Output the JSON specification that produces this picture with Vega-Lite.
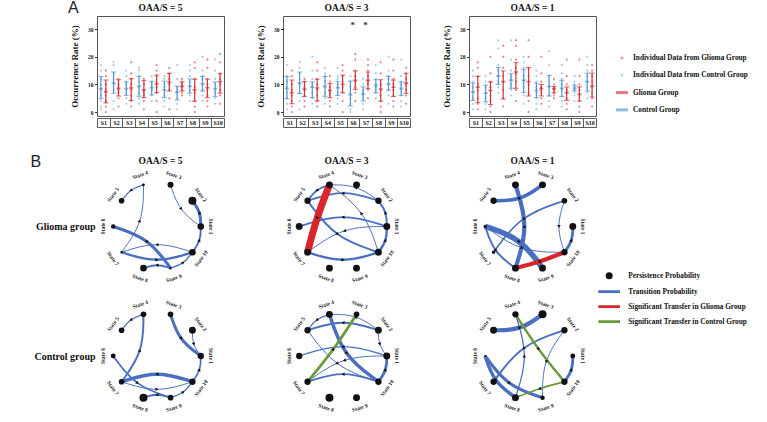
{
  "$schema": "https://vega.github.io/schema/vega-lite/v6.json",
  "background": "white",
  "padding": {"left": 30, "top": -1, "right": 5, "bottom": 2},
  "title": {"text": "A", "anchor": "start", "frame": "group", "dx": -29, "offset": -13.7, "font": "Liberation Sans", "fontSize": 16, "fontWeight": "normal", "color": "#222"},
  "bounds": "flush",
  "align": "each",
  "columns": 3,
  "spacing": {"row": 6, "column": 59},
  "resolve": {
    "scale": {"fill": "independent", "shape": "independent", "color": "independent", "stroke": "independent", "strokeWidth": "independent", "size": "independent"},
    "legend": {"fill": "independent", "shape": "independent", "color": "independent", "stroke": "independent", "strokeWidth": "independent", "size": "independent"}
  },
  "config": {
    "font": "Liberation Serif",
    "view": {"stroke": "#555", "strokeWidth": 1},
    "axis": {"labelFont": "Liberation Serif", "titleFont": "Liberation Serif", "labelColor": "#111", "titleColor": "#111"},
    "legend": {"labelFont": "Liberation Serif", "labelFontWeight": "bold", "labelColor": "#111"},
    "title": {"font": "Liberation Serif", "fontWeight": "bold", "fontSize": 9.5, "color": "#111"}
  },
  "datasets": {
    "occ": [
      {"panel":"5","state":"S1","group":"Control","mean":8.5,"lo":4.8,"hi":12.9,"pts":[1,2,4,6,8,10,12,15,17]},
      {"panel":"5","state":"S1","group":"Glioma","mean":7.3,"lo":3.3,"hi":11.6,"pts":[0,2,4,6,8,10,13,15]},
      {"panel":"5","state":"S2","group":"Control","mean":10.5,"lo":6.8,"hi":14.5,"pts":[1,4,8,10,12,14,17,18]},
      {"panel":"5","state":"S2","group":"Glioma","mean":8.5,"lo":5.8,"hi":11.7,"pts":[2,5,7,8,9,10,12]},
      {"panel":"5","state":"S3","group":"Control","mean":8.5,"lo":6.0,"hi":10.9,"pts":[3,5,7,8,10,11,13,15]},
      {"panel":"5","state":"S3","group":"Glioma","mean":8.7,"lo":4.2,"hi":12.1,"pts":[2,4,6,8,10,12,14,18]},
      {"panel":"5","state":"S4","group":"Control","mean":9.3,"lo":5.7,"hi":12.9,"pts":[3,5,7,9,11,13,15,16]},
      {"panel":"5","state":"S4","group":"Glioma","mean":8.0,"lo":5.2,"hi":11.4,"pts":[1,4,6,7,8,10,12]},
      {"panel":"5","state":"S5","group":"Control","mean":8.8,"lo":6.2,"hi":11.1,"pts":[4,6,8,9,10,11,13]},
      {"panel":"5","state":"S5","group":"Glioma","mean":10.2,"lo":7.0,"hi":13.4,"pts":[0,4,7,9,11,13,15,17]},
      {"panel":"5","state":"S6","group":"Control","mean":8.0,"lo":5.2,"hi":11.2,"pts":[2,4,6,8,9,10,12,13]},
      {"panel":"5","state":"S6","group":"Glioma","mean":10.8,"lo":7.6,"hi":14.0,"pts":[1,5,8,10,12,14,16]},
      {"panel":"5","state":"S7","group":"Control","mean":7.2,"lo":4.4,"hi":9.4,"pts":[1,3,5,7,8,9,12,17]},
      {"panel":"5","state":"S7","group":"Glioma","mean":9.3,"lo":7.6,"hi":10.9,"pts":[6,7,8,9,10,11,12]},
      {"panel":"5","state":"S8","group":"Control","mean":9.4,"lo":6.8,"hi":12.0,"pts":[4,6,8,9,11,13,15,17]},
      {"panel":"5","state":"S8","group":"Glioma","mean":8.0,"lo":3.9,"hi":11.9,"pts":[0,2,4,7,9,12,16,18]},
      {"panel":"5","state":"S9","group":"Control","mean":10.2,"lo":7.6,"hi":12.9,"pts":[4,6,8,10,12,13,15,20]},
      {"panel":"5","state":"S9","group":"Glioma","mean":8.8,"lo":5.2,"hi":11.9,"pts":[2,4,6,8,10,12,16,19]},
      {"panel":"5","state":"S10","group":"Control","mean":8.5,"lo":5.6,"hi":10.9,"pts":[3,5,7,8,10,12,15,19]},
      {"panel":"5","state":"S10","group":"Glioma","mean":11.0,"lo":6.8,"hi":13.9,"pts":[3,6,8,10,12,14,18,21]},
      {"panel":"3","state":"S1","group":"Control","mean":8.5,"lo":4.8,"hi":12.9,"pts":[1,3,5,7,9,11,13,17]},
      {"panel":"3","state":"S1","group":"Glioma","mean":7.0,"lo":3.0,"hi":11.6,"pts":[0,2,4,6,8,10,13,15]},
      {"panel":"3","state":"S2","group":"Control","mean":10.5,"lo":6.7,"hi":14.5,"pts":[1,4,7,10,12,14,16,18]},
      {"panel":"3","state":"S2","group":"Glioma","mean":8.3,"lo":5.6,"hi":11.0,"pts":[2,4,6,8,9,11,12]},
      {"panel":"3","state":"S3","group":"Control","mean":9.0,"lo":5.2,"hi":10.9,"pts":[3,5,7,9,10,12,15,20]},
      {"panel":"3","state":"S3","group":"Glioma","mean":8.7,"lo":4.0,"hi":11.9,"pts":[2,4,6,8,10,12,15,18]},
      {"panel":"3","state":"S4","group":"Control","mean":9.3,"lo":5.7,"hi":12.9,"pts":[3,5,7,9,11,13,14,16]},
      {"panel":"3","state":"S4","group":"Glioma","mean":7.8,"lo":5.2,"hi":10.3,"pts":[2,4,6,7,8,9,11,13]},
      {"panel":"3","state":"S5","group":"Control","mean":8.8,"lo":6.0,"hi":11.1,"pts":[3,5,7,9,10,12,13,16]},
      {"panel":"3","state":"S5","group":"Glioma","mean":10.0,"lo":7.0,"hi":13.4,"pts":[0,4,7,9,11,13,15,17]},
      {"panel":"3","state":"S6","group":"Control","mean":6.3,"lo":2.2,"hi":11.2,"pts":[0,1,3,5,7,9,11,13]},
      {"panel":"3","state":"S6","group":"Glioma","mean":11.5,"lo":8.2,"hi":14.9,"pts":[4,7,9,11,13,15,19,21],"sig":"*"},
      {"panel":"3","state":"S7","group":"Control","mean":6.5,"lo":4.0,"hi":9.1,"pts":[1,3,5,6,7,8,10,12]},
      {"panel":"3","state":"S7","group":"Glioma","mean":11.5,"lo":8.5,"hi":14.5,"pts":[5,8,10,11,13,15,17,19],"sig":"*"},
      {"panel":"3","state":"S8","group":"Control","mean":9.6,"lo":7.0,"hi":11.7,"pts":[5,7,8,9,10,12,14,17]},
      {"panel":"3","state":"S8","group":"Glioma","mean":8.3,"lo":3.9,"hi":11.7,"pts":[0,2,4,6,8,10,14,18]},
      {"panel":"3","state":"S9","group":"Control","mean":10.1,"lo":7.9,"hi":12.9,"pts":[3,6,8,10,12,13,15,20]},
      {"panel":"3","state":"S9","group":"Glioma","mean":9.0,"lo":5.6,"hi":11.6,"pts":[2,4,6,8,10,12,15,19]},
      {"panel":"3","state":"S10","group":"Control","mean":8.6,"lo":6.0,"hi":10.9,"pts":[2,4,6,8,10,11,13,19]},
      {"panel":"3","state":"S10","group":"Glioma","mean":10.5,"lo":6.7,"hi":14.0,"pts":[3,6,8,10,12,14,16]},
      {"panel":"1","state":"S1","group":"Control","mean":7.3,"lo":4.2,"hi":10.5,"pts":[1,3,5,7,9,11,13,15]},
      {"panel":"1","state":"S1","group":"Glioma","mean":9.0,"lo":3.4,"hi":12.9,"pts":[1,3,5,8,10,13,16,18]},
      {"panel":"1","state":"S2","group":"Control","mean":6.8,"lo":3.7,"hi":9.7,"pts":[1,3,5,7,9,11,13]},
      {"panel":"1","state":"S2","group":"Glioma","mean":7.8,"lo":2.7,"hi":10.9,"pts":[0,2,4,6,9,11,14,20]},
      {"panel":"1","state":"S3","group":"Control","mean":13.0,"lo":10.0,"hi":16.1,"pts":[7,9,11,13,15,17,23,26]},
      {"panel":"1","state":"S3","group":"Glioma","mean":11.0,"lo":4.7,"hi":14.9,"pts":[2,5,8,11,13,16,20,24]},
      {"panel":"1","state":"S4","group":"Control","mean":11.5,"lo":8.6,"hi":13.9,"pts":[6,8,10,12,13,15,19,26]},
      {"panel":"1","state":"S4","group":"Glioma","mean":14.5,"lo":8.6,"hi":17.9,"pts":[4,8,11,14,16,19,24,26]},
      {"panel":"1","state":"S5","group":"Control","mean":11.5,"lo":7.0,"hi":15.5,"pts":[3,6,9,11,13,16,18,20]},
      {"panel":"1","state":"S5","group":"Glioma","mean":11.0,"lo":5.8,"hi":16.1,"pts":[0,4,7,10,13,16,20,26]},
      {"panel":"1","state":"S6","group":"Control","mean":7.8,"lo":5.2,"hi":10.5,"pts":[1,3,5,7,9,11,13,15]},
      {"panel":"1","state":"S6","group":"Glioma","mean":8.5,"lo":5.8,"hi":10.0,"pts":[3,5,7,8,9,11,14,20]},
      {"panel":"1","state":"S7","group":"Control","mean":9.3,"lo":5.8,"hi":13.3,"pts":[2,4,6,9,11,13,17,22]},
      {"panel":"1","state":"S7","group":"Glioma","mean":8.4,"lo":6.9,"hi":9.2,"pts":[5,6,7,8,9,10,12]},
      {"panel":"1","state":"S8","group":"Control","mean":8.6,"lo":5.6,"hi":11.5,"pts":[2,4,6,8,10,12,14,17]},
      {"panel":"1","state":"S8","group":"Glioma","mean":7.0,"lo":4.2,"hi":9.1,"pts":[1,3,5,7,8,10,13,19]},
      {"panel":"1","state":"S9","group":"Control","mean":8.6,"lo":7.6,"hi":9.7,"pts":[4,6,7,8,9,10,11,13]},
      {"panel":"1","state":"S9","group":"Glioma","mean":6.5,"lo":4.0,"hi":9.1,"pts":[0,2,4,6,8,10,13,19]},
      {"panel":"1","state":"S10","group":"Control","mean":11.0,"lo":7.6,"hi":14.1,"pts":[5,7,9,11,13,15,17,20]},
      {"panel":"1","state":"S10","group":"Glioma","mean":9.4,"lo":5.4,"hi":14.1,"pts":[2,5,7,9,11,13,15,17]}
    ],
    "nodes": [
      {"net":"G5","state":1,"persist":0.55},{"net":"G5","state":2,"persist":0.8},{"net":"G5","state":3,"persist":0.45},{"net":"G5","state":4,"persist":0.1},{"net":"G5","state":5,"persist":0.4},
      {"net":"G5","state":6,"persist":0.25},{"net":"G5","state":7,"persist":0.08},{"net":"G5","state":8,"persist":0.55},{"net":"G5","state":9,"persist":0.08},{"net":"G5","state":10,"persist":0.55},
      {"net":"G3","state":1,"persist":0.6},{"net":"G3","state":2,"persist":0.5},{"net":"G3","state":3,"persist":0.6},{"net":"G3","state":4,"persist":0.6},{"net":"G3","state":5,"persist":0.5},
      {"net":"G3","state":6,"persist":0.6},{"net":"G3","state":7,"persist":0.6},{"net":"G3","state":8,"persist":0.6},{"net":"G3","state":9,"persist":0.6},{"net":"G3","state":10,"persist":0.6},
      {"net":"G1","state":1,"persist":0.6},{"net":"G1","state":2,"persist":0.4},{"net":"G1","state":3,"persist":0.6},{"net":"G1","state":4,"persist":0.6},{"net":"G1","state":5,"persist":0.5},
      {"net":"G1","state":6,"persist":0.15},{"net":"G1","state":7,"persist":0.15},{"net":"G1","state":8,"persist":0.6},{"net":"G1","state":9,"persist":0.6},{"net":"G1","state":10,"persist":0.5},
      {"net":"C5","state":1,"persist":0.5},{"net":"C5","state":2,"persist":0.6},{"net":"C5","state":3,"persist":0.4},{"net":"C5","state":4,"persist":0.4},{"net":"C5","state":5,"persist":0.4},
      {"net":"C5","state":6,"persist":0.3},{"net":"C5","state":7,"persist":0.4},{"net":"C5","state":8,"persist":0.8},{"net":"C5","state":9,"persist":0.4},{"net":"C5","state":10,"persist":0.5},
      {"net":"C3","state":1,"persist":0.6},{"net":"C3","state":2,"persist":0.6},{"net":"C3","state":3,"persist":0.4},{"net":"C3","state":4,"persist":0.6},{"net":"C3","state":5,"persist":0.5},
      {"net":"C3","state":6,"persist":0.5},{"net":"C3","state":7,"persist":0.5},{"net":"C3","state":8,"persist":0.8},{"net":"C3","state":9,"persist":0.6},{"net":"C3","state":10,"persist":0.5},
      {"net":"C1","state":1,"persist":0.3},{"net":"C1","state":2,"persist":0.5},{"net":"C1","state":3,"persist":0.8},{"net":"C1","state":4,"persist":0.5},{"net":"C1","state":5,"persist":0.6},
      {"net":"C1","state":6,"persist":0.06},{"net":"C1","state":7,"persist":0.5},{"net":"C1","state":8,"persist":0.6},{"net":"C1","state":9,"persist":0.25},{"net":"C1","state":10,"persist":0.5}
    ],
    "edges": [
      {"net":"G5","from":4,"to":5,"prob":0.09,"kind":"Transition Probability"},
      {"net":"G5","from":7,"to":4,"prob":0.07,"kind":"Transition Probability"},
      {"net":"G5","from":3,"to":1,"prob":0.07,"kind":"Transition Probability"},
      {"net":"G5","from":1,"to":2,"prob":0.22,"kind":"Transition Probability"},
      {"net":"G5","from":10,"to":1,"prob":0.14,"kind":"Transition Probability"},
      {"net":"G5","from":9,"to":6,"prob":0.22,"kind":"Transition Probability"},
      {"net":"G5","from":10,"to":7,"prob":0.07,"kind":"Transition Probability"},
      {"net":"G5","from":7,"to":10,"prob":0.17,"kind":"Transition Probability"},
      {"net":"G5","from":9,"to":8,"prob":0.14,"kind":"Transition Probability"},
      {"net":"G5","from":9,"to":10,"prob":0.1,"kind":"Transition Probability"},
      {"net":"G3","from":2,"to":4,"prob":0.07,"kind":"Transition Probability"},
      {"net":"G3","from":4,"to":5,"prob":0.14,"kind":"Transition Probability"},
      {"net":"G3","from":2,"to":5,"prob":0.12,"kind":"Transition Probability"},
      {"net":"G3","from":1,"to":2,"prob":0.14,"kind":"Transition Probability"},
      {"net":"G3","from":10,"to":4,"prob":0.07,"kind":"Transition Probability"},
      {"net":"G3","from":1,"to":6,"prob":0.12,"kind":"Transition Probability"},
      {"net":"G3","from":1,"to":7,"prob":0.07,"kind":"Transition Probability"},
      {"net":"G3","from":5,"to":10,"prob":0.14,"kind":"Transition Probability"},
      {"net":"G3","from":7,"to":10,"prob":0.17,"kind":"Transition Probability"},
      {"net":"G3","from":10,"to":1,"prob":0.17,"kind":"Transition Probability"},
      {"net":"G3","from":4,"to":7,"prob":0.5,"kind":"Significant Transfer in Glioma Group"},
      {"net":"G1","from":8,"to":4,"prob":0.3,"kind":"Transition Probability"},
      {"net":"G1","from":5,"to":3,"prob":0.25,"kind":"Transition Probability"},
      {"net":"G1","from":2,"to":7,"prob":0.12,"kind":"Transition Probability"},
      {"net":"G1","from":2,"to":10,"prob":0.07,"kind":"Transition Probability"},
      {"net":"G1","from":10,"to":1,"prob":0.2,"kind":"Transition Probability"},
      {"net":"G1","from":9,"to":6,"prob":0.4,"kind":"Transition Probability"},
      {"net":"G1","from":6,"to":8,"prob":0.14,"kind":"Transition Probability"},
      {"net":"G1","from":6,"to":10,"prob":0.07,"kind":"Transition Probability"},
      {"net":"G1","from":8,"to":10,"prob":0.3,"kind":"Significant Transfer in Glioma Group"},
      {"net":"C5","from":4,"to":5,"prob":0.09,"kind":"Transition Probability"},
      {"net":"C5","from":7,"to":4,"prob":0.14,"kind":"Transition Probability"},
      {"net":"C5","from":3,"to":1,"prob":0.22,"kind":"Transition Probability"},
      {"net":"C5","from":2,"to":1,"prob":0.07,"kind":"Transition Probability"},
      {"net":"C5","from":10,"to":1,"prob":0.12,"kind":"Transition Probability"},
      {"net":"C5","from":6,"to":9,"prob":0.12,"kind":"Transition Probability"},
      {"net":"C5","from":10,"to":7,"prob":0.25,"kind":"Transition Probability"},
      {"net":"C5","from":7,"to":10,"prob":0.07,"kind":"Transition Probability"},
      {"net":"C5","from":9,"to":8,"prob":0.14,"kind":"Transition Probability"},
      {"net":"C5","from":9,"to":10,"prob":0.1,"kind":"Transition Probability"},
      {"net":"C3","from":4,"to":10,"prob":0.25,"kind":"Transition Probability"},
      {"net":"C3","from":4,"to":5,"prob":0.09,"kind":"Transition Probability"},
      {"net":"C3","from":2,"to":4,"prob":0.07,"kind":"Transition Probability"},
      {"net":"C3","from":2,"to":5,"prob":0.14,"kind":"Transition Probability"},
      {"net":"C3","from":2,"to":1,"prob":0.07,"kind":"Transition Probability"},
      {"net":"C3","from":1,"to":6,"prob":0.09,"kind":"Transition Probability"},
      {"net":"C3","from":1,"to":7,"prob":0.07,"kind":"Transition Probability"},
      {"net":"C3","from":5,"to":10,"prob":0.07,"kind":"Transition Probability"},
      {"net":"C3","from":10,"to":1,"prob":0.2,"kind":"Transition Probability"},
      {"net":"C3","from":10,"to":7,"prob":0.12,"kind":"Transition Probability"},
      {"net":"C3","from":7,"to":3,"prob":0.2,"kind":"Significant Transfer in Control Group"},
      {"net":"C1","from":5,"to":3,"prob":0.3,"kind":"Transition Probability"},
      {"net":"C1","from":8,"to":4,"prob":0.09,"kind":"Transition Probability"},
      {"net":"C1","from":2,"to":7,"prob":0.14,"kind":"Transition Probability"},
      {"net":"C1","from":2,"to":9,"prob":0.07,"kind":"Transition Probability"},
      {"net":"C1","from":6,"to":8,"prob":0.25,"kind":"Transition Probability"},
      {"net":"C1","from":6,"to":9,"prob":0.22,"kind":"Transition Probability"},
      {"net":"C1","from":10,"to":1,"prob":0.2,"kind":"Transition Probability"},
      {"net":"C1","from":4,"to":10,"prob":0.17,"kind":"Significant Transfer in Control Group"},
      {"net":"C1","from":10,"to":8,"prob":0.12,"kind":"Significant Transfer in Control Group"}
    ]
  },
  "concat": [
    {
      "width": 127, "height": 100,
      "title": {"text": "OAA/S = 5", "offset": 4},
      "data": {"name": "occ"},
      "transform": [{"filter": "datum.panel === '5'"}],
      "resolve": {"axis": {"x": "independent"}},
      "layer": [
        {
          "transform": [{"flatten": ["pts"]}, {"calculate": "'Individual Data from ' + datum.group + ' Group'", "as": "lab"}],
          "mark": {"type": "point", "filled": true, "size": 50, "opacity": 0.8},
          "encoding": {
            "x": {"field": "state", "type": "nominal", "sort": null, "scale": {"domain": ["S1","S2","S3","S4","S5","S6","S7","S8","S9","S10"], "paddingInner": 0, "paddingOuter": 0}, "axis": {"orient": "bottom", "title": null, "labelAngle": 0, "labelFontSize": 6, "labelFontWeight": "bold", "tickBand": "extent", "tickSize": 9, "tickColor": "#333", "tickWidth": 0.8, "domainColor": "#333", "domainWidth": 0.8, "offset": 2, "labelPadding": -4.5, "labelBaseline": "middle"}},
            "xOffset": {"field": "group", "type": "nominal", "scale": {"domain": ["Control","Glioma"], "paddingOuter": 0.3, "paddingInner": 0}},
            "y": {"field": "pts", "type": "quantitative", "scale": {"domain": [-1.45, 34.8], "nice": false, "zero": false}, "axis": {"values": [0,10,20,30], "labelOverlap": false, "title": "Occurrence Rate (%)", "titleFontSize": 9, "titleFontWeight": "bold", "labelFontSize": 5.5, "labelFontWeight": "bold", "tickSize": 2.5, "tickColor": "#333", "domain": false, "grid": false, "labelPadding": 1.5, "titlePadding": 8}},
            "fill": {"field": "lab", "type": "nominal", "scale": {"domain": ["Individual Data from Glioma Group","Individual Data from Control Group","Glioma Group","Control Group"], "range": ["#e2656b","#8dc0ea","#d32f37","#4f96d3"]}, "legend": null},
            "shape": {"field": "lab", "type": "nominal", "scale": {"domain": ["Individual Data from Glioma Group","Individual Data from Control Group","Glioma Group","Control Group"], "range": ["M0.3,0A0.3,0.3,0,1,1,-0.3,0A0.3,0.3,0,1,1,0.3,0Z","M0.3,0A0.3,0.3,0,1,1,-0.3,0A0.3,0.3,0,1,1,0.3,0Z","M-1.2,-0.3H1.2V0.3H-1.2Z","M-1.2,-0.3H1.2V0.3H-1.2Z"]}, "legend": null}
          }
        },
        {
          "mark": {"type": "rule", "strokeWidth": 1.2},
          "encoding": {
            "x": {"field": "state", "type": "nominal", "sort": null, "axis": {"orient": "bottom", "title": null, "labels": false, "ticks": false, "domainColor": "#333", "domainWidth": 0.8, "offset": 11}},
            "xOffset": {"field": "group", "type": "nominal"},
            "y": {"field": "lo", "type": "quantitative", "axis": {"values": [0,10,20,30], "labelOverlap": false, "title": "Occurrence Rate (%)", "titleFontSize": 9, "titleFontWeight": "bold", "labelFontSize": 5.5, "labelFontWeight": "bold", "tickSize": 2.5, "tickColor": "#333", "domain": false, "grid": false, "labelPadding": 1.5, "titlePadding": 8}},
            "y2": {"field": "hi"},
            "color": {"field": "group", "type": "nominal", "scale": {"domain": ["Control","Glioma"], "range": ["#4f96d3","#d32f37"]}, "legend": null}
          }
        },
        {
          "mark": {"type": "tick", "size": 5, "thickness": 1.1},
          "encoding": {
            "x": {"field": "state", "type": "nominal", "sort": null, "axis": null},
            "xOffset": {"field": "group", "type": "nominal"},
            "y": {"field": "lo", "type": "quantitative", "axis": {"values": [0,10,20,30], "labelOverlap": false, "title": "Occurrence Rate (%)", "titleFontSize": 9, "titleFontWeight": "bold", "labelFontSize": 5.5, "labelFontWeight": "bold", "tickSize": 2.5, "tickColor": "#333", "domain": false, "grid": false, "labelPadding": 1.5, "titlePadding": 8}},
            "color": {"field": "group", "type": "nominal", "legend": null}
          }
        },
        {
          "mark": {"type": "tick", "size": 5, "thickness": 1.1},
          "encoding": {
            "x": {"field": "state", "type": "nominal", "sort": null, "axis": null},
            "xOffset": {"field": "group", "type": "nominal"},
            "y": {"field": "hi", "type": "quantitative", "axis": {"values": [0,10,20,30], "labelOverlap": false, "title": "Occurrence Rate (%)", "titleFontSize": 9, "titleFontWeight": "bold", "labelFontSize": 5.5, "labelFontWeight": "bold", "tickSize": 2.5, "tickColor": "#333", "domain": false, "grid": false, "labelPadding": 1.5, "titlePadding": 8}},
            "color": {"field": "group", "type": "nominal", "legend": null}
          }
        },
        {
          "mark": {"type": "tick", "size": 4, "thickness": 1.6},
          "encoding": {
            "x": {"field": "state", "type": "nominal", "sort": null, "axis": null},
            "xOffset": {"field": "group", "type": "nominal"},
            "y": {"field": "mean", "type": "quantitative", "axis": {"values": [0,10,20,30], "labelOverlap": false, "title": "Occurrence Rate (%)", "titleFontSize": 9, "titleFontWeight": "bold", "labelFontSize": 5.5, "labelFontWeight": "bold", "tickSize": 2.5, "tickColor": "#333", "domain": false, "grid": false, "labelPadding": 1.5, "titlePadding": 8}},
            "color": {"field": "group", "type": "nominal", "legend": null}
          }
        }
      ]
    },
    {
      "width": 127, "height": 100,
      "title": {"text": "OAA/S = 3", "offset": 4},
      "data": {"name": "occ"},
      "transform": [{"filter": "datum.panel === '3'"}],
      "resolve": {"axis": {"x": "independent"}},
      "layer": [
        {
          "transform": [{"flatten": ["pts"]}, {"calculate": "'Individual Data from ' + datum.group + ' Group'", "as": "lab"}],
          "mark": {"type": "point", "filled": true, "size": 50, "opacity": 0.8},
          "encoding": {
            "x": {"field": "state", "type": "nominal", "sort": null, "scale": {"domain": ["S1","S2","S3","S4","S5","S6","S7","S8","S9","S10"], "paddingInner": 0, "paddingOuter": 0}, "axis": {"orient": "bottom", "title": null, "labelAngle": 0, "labelFontSize": 6, "labelFontWeight": "bold", "tickBand": "extent", "tickSize": 9, "tickColor": "#333", "tickWidth": 0.8, "domainColor": "#333", "domainWidth": 0.8, "offset": 2, "labelPadding": -4.5, "labelBaseline": "middle"}},
            "xOffset": {"field": "group", "type": "nominal", "scale": {"domain": ["Control","Glioma"], "paddingOuter": 0.3, "paddingInner": 0}},
            "y": {"field": "pts", "type": "quantitative", "scale": {"domain": [-1.45, 34.8], "nice": false, "zero": false}, "axis": {"values": [0,10,20,30], "labelOverlap": false, "title": "Occurrence Rate (%)", "titleFontSize": 9, "titleFontWeight": "bold", "labelFontSize": 5.5, "labelFontWeight": "bold", "tickSize": 2.5, "tickColor": "#333", "domain": false, "grid": false, "labelPadding": 1.5, "titlePadding": 8}},
            "fill": {"field": "lab", "type": "nominal", "scale": {"domain": ["Individual Data from Glioma Group","Individual Data from Control Group","Glioma Group","Control Group"], "range": ["#e2656b","#8dc0ea","#d32f37","#4f96d3"]}, "legend": null},
            "shape": {"field": "lab", "type": "nominal", "scale": {"domain": ["Individual Data from Glioma Group","Individual Data from Control Group","Glioma Group","Control Group"], "range": ["M0.3,0A0.3,0.3,0,1,1,-0.3,0A0.3,0.3,0,1,1,0.3,0Z","M0.3,0A0.3,0.3,0,1,1,-0.3,0A0.3,0.3,0,1,1,0.3,0Z","M-1.2,-0.3H1.2V0.3H-1.2Z","M-1.2,-0.3H1.2V0.3H-1.2Z"]}, "legend": null}
          }
        },
        {
          "mark": {"type": "rule", "strokeWidth": 1.2},
          "encoding": {
            "x": {"field": "state", "type": "nominal", "sort": null, "axis": {"orient": "bottom", "title": null, "labels": false, "ticks": false, "domainColor": "#333", "domainWidth": 0.8, "offset": 11}},
            "xOffset": {"field": "group", "type": "nominal"},
            "y": {"field": "lo", "type": "quantitative", "axis": {"values": [0,10,20,30], "labelOverlap": false, "title": "Occurrence Rate (%)", "titleFontSize": 9, "titleFontWeight": "bold", "labelFontSize": 5.5, "labelFontWeight": "bold", "tickSize": 2.5, "tickColor": "#333", "domain": false, "grid": false, "labelPadding": 1.5, "titlePadding": 8}},
            "y2": {"field": "hi"},
            "color": {"field": "group", "type": "nominal", "scale": {"domain": ["Control","Glioma"], "range": ["#4f96d3","#d32f37"]}, "legend": null}
          }
        },
        {
          "mark": {"type": "tick", "size": 5, "thickness": 1.1},
          "encoding": {
            "x": {"field": "state", "type": "nominal", "sort": null, "axis": null},
            "xOffset": {"field": "group", "type": "nominal"},
            "y": {"field": "lo", "type": "quantitative", "axis": {"values": [0,10,20,30], "labelOverlap": false, "title": "Occurrence Rate (%)", "titleFontSize": 9, "titleFontWeight": "bold", "labelFontSize": 5.5, "labelFontWeight": "bold", "tickSize": 2.5, "tickColor": "#333", "domain": false, "grid": false, "labelPadding": 1.5, "titlePadding": 8}},
            "color": {"field": "group", "type": "nominal", "legend": null}
          }
        },
        {
          "mark": {"type": "tick", "size": 5, "thickness": 1.1},
          "encoding": {
            "x": {"field": "state", "type": "nominal", "sort": null, "axis": null},
            "xOffset": {"field": "group", "type": "nominal"},
            "y": {"field": "hi", "type": "quantitative", "axis": {"values": [0,10,20,30], "labelOverlap": false, "title": "Occurrence Rate (%)", "titleFontSize": 9, "titleFontWeight": "bold", "labelFontSize": 5.5, "labelFontWeight": "bold", "tickSize": 2.5, "tickColor": "#333", "domain": false, "grid": false, "labelPadding": 1.5, "titlePadding": 8}},
            "color": {"field": "group", "type": "nominal", "legend": null}
          }
        },
        {
          "mark": {"type": "tick", "size": 4, "thickness": 1.6},
          "encoding": {
            "x": {"field": "state", "type": "nominal", "sort": null, "axis": null},
            "xOffset": {"field": "group", "type": "nominal"},
            "y": {"field": "mean", "type": "quantitative", "axis": {"values": [0,10,20,30], "labelOverlap": false, "title": "Occurrence Rate (%)", "titleFontSize": 9, "titleFontWeight": "bold", "labelFontSize": 5.5, "labelFontWeight": "bold", "tickSize": 2.5, "tickColor": "#333", "domain": false, "grid": false, "labelPadding": 1.5, "titlePadding": 8}},
            "color": {"field": "group", "type": "nominal", "legend": null}
          }
        },
        {
          "transform": [{"filter": "datum.sig"}],
          "mark": {"type": "text", "fontSize": 9, "fontWeight": "bold", "color": "#333", "baseline": "middle"},
          "encoding": {
            "x": {"field": "state", "type": "nominal", "sort": null, "axis": null},
            "y": {"datum": 31.5, "axis": {"values": [0,10,20,30], "labelOverlap": false, "title": "Occurrence Rate (%)", "titleFontSize": 9, "titleFontWeight": "bold", "labelFontSize": 5.5, "labelFontWeight": "bold", "tickSize": 2.5, "tickColor": "#333", "domain": false, "grid": false, "labelPadding": 1.5, "titlePadding": 8}},
            "text": {"field": "sig"}
          }
        }
      ]
    },
    {
      "width": 127, "height": 100,
      "title": {"text": "OAA/S = 1", "offset": 4},
      "data": {"name": "occ"},
      "transform": [{"filter": "datum.panel === '1'"}],
      "resolve": {"axis": {"x": "independent"}},
      "layer": [
        {
          "transform": [{"flatten": ["pts"]}, {"calculate": "'Individual Data from ' + datum.group + ' Group'", "as": "lab"}],
          "mark": {"type": "point", "filled": true, "size": 50, "opacity": 0.8},
          "encoding": {
            "x": {"field": "state", "type": "nominal", "sort": null, "scale": {"domain": ["S1","S2","S3","S4","S5","S6","S7","S8","S9","S10"], "paddingInner": 0, "paddingOuter": 0}, "axis": {"orient": "bottom", "title": null, "labelAngle": 0, "labelFontSize": 6, "labelFontWeight": "bold", "tickBand": "extent", "tickSize": 9, "tickColor": "#333", "tickWidth": 0.8, "domainColor": "#333", "domainWidth": 0.8, "offset": 2, "labelPadding": -4.5, "labelBaseline": "middle"}},
            "xOffset": {"field": "group", "type": "nominal", "scale": {"domain": ["Control","Glioma"], "paddingOuter": 0.3, "paddingInner": 0}},
            "y": {"field": "pts", "type": "quantitative", "scale": {"domain": [-1.45, 34.8], "nice": false, "zero": false}, "axis": {"values": [0,10,20,30], "labelOverlap": false, "title": "Occurrence Rate (%)", "titleFontSize": 9, "titleFontWeight": "bold", "labelFontSize": 5.5, "labelFontWeight": "bold", "tickSize": 2.5, "tickColor": "#333", "domain": false, "grid": false, "labelPadding": 1.5, "titlePadding": 8}},
            "fill": {"field": "lab", "type": "nominal", "scale": {"domain": ["Individual Data from Glioma Group","Individual Data from Control Group","Glioma Group","Control Group"], "range": ["#e2656b","#8dc0ea","#d32f37","#4f96d3"]}, "legend": {"orient": "none", "legendX": 148, "legendY": 37, "title": null, "padding": 0, "rowPadding": 8.3, "symbolSize": 100, "labelOffset": 6, "labelFontSize": 7.3, "symbolStrokeWidth": 0}},
            "shape": {"field": "lab", "type": "nominal", "scale": {"domain": ["Individual Data from Glioma Group","Individual Data from Control Group","Glioma Group","Control Group"], "range": ["M0.3,0A0.3,0.3,0,1,1,-0.3,0A0.3,0.3,0,1,1,0.3,0Z","M0.3,0A0.3,0.3,0,1,1,-0.3,0A0.3,0.3,0,1,1,0.3,0Z","M-1.2,-0.3H1.2V0.3H-1.2Z","M-1.2,-0.3H1.2V0.3H-1.2Z"]}, "legend": {"orient": "none", "legendX": 148, "legendY": 37, "title": null, "padding": 0, "rowPadding": 8.3, "symbolSize": 100, "labelOffset": 6, "labelFontSize": 7.3, "symbolStrokeWidth": 0}}
          }
        },
        {
          "mark": {"type": "rule", "strokeWidth": 1.2},
          "encoding": {
            "x": {"field": "state", "type": "nominal", "sort": null, "axis": {"orient": "bottom", "title": null, "labels": false, "ticks": false, "domainColor": "#333", "domainWidth": 0.8, "offset": 11}},
            "xOffset": {"field": "group", "type": "nominal"},
            "y": {"field": "lo", "type": "quantitative", "axis": {"values": [0,10,20,30], "labelOverlap": false, "title": "Occurrence Rate (%)", "titleFontSize": 9, "titleFontWeight": "bold", "labelFontSize": 5.5, "labelFontWeight": "bold", "tickSize": 2.5, "tickColor": "#333", "domain": false, "grid": false, "labelPadding": 1.5, "titlePadding": 8}},
            "y2": {"field": "hi"},
            "color": {"field": "group", "type": "nominal", "scale": {"domain": ["Control","Glioma"], "range": ["#4f96d3","#d32f37"]}, "legend": null}
          }
        },
        {
          "mark": {"type": "tick", "size": 5, "thickness": 1.1},
          "encoding": {
            "x": {"field": "state", "type": "nominal", "sort": null, "axis": null},
            "xOffset": {"field": "group", "type": "nominal"},
            "y": {"field": "lo", "type": "quantitative", "axis": {"values": [0,10,20,30], "labelOverlap": false, "title": "Occurrence Rate (%)", "titleFontSize": 9, "titleFontWeight": "bold", "labelFontSize": 5.5, "labelFontWeight": "bold", "tickSize": 2.5, "tickColor": "#333", "domain": false, "grid": false, "labelPadding": 1.5, "titlePadding": 8}},
            "color": {"field": "group", "type": "nominal", "legend": null}
          }
        },
        {
          "mark": {"type": "tick", "size": 5, "thickness": 1.1},
          "encoding": {
            "x": {"field": "state", "type": "nominal", "sort": null, "axis": null},
            "xOffset": {"field": "group", "type": "nominal"},
            "y": {"field": "hi", "type": "quantitative", "axis": {"values": [0,10,20,30], "labelOverlap": false, "title": "Occurrence Rate (%)", "titleFontSize": 9, "titleFontWeight": "bold", "labelFontSize": 5.5, "labelFontWeight": "bold", "tickSize": 2.5, "tickColor": "#333", "domain": false, "grid": false, "labelPadding": 1.5, "titlePadding": 8}},
            "color": {"field": "group", "type": "nominal", "legend": null}
          }
        },
        {
          "mark": {"type": "tick", "size": 4, "thickness": 1.6},
          "encoding": {
            "x": {"field": "state", "type": "nominal", "sort": null, "axis": null},
            "xOffset": {"field": "group", "type": "nominal"},
            "y": {"field": "mean", "type": "quantitative", "axis": {"values": [0,10,20,30], "labelOverlap": false, "title": "Occurrence Rate (%)", "titleFontSize": 9, "titleFontWeight": "bold", "labelFontSize": 5.5, "labelFontWeight": "bold", "tickSize": 2.5, "tickColor": "#333", "domain": false, "grid": false, "labelPadding": 1.5, "titlePadding": 8}},
            "color": {"field": "group", "type": "nominal", "legend": null}
          }
        }
      ]
    },
    {
      "width": 127, "height": 168,
      "view": {"stroke": null},
      "title": {"text": "OAA/S = 5", "offset": -43},
      "encoding": {
        "x": {"field": "px", "type": "quantitative", "scale": {"domain": [-1.37, 1.53], "nice": false, "zero": false}, "axis": {"orient": "top", "title": "B", "titleX": -67, "titleY": 44, "titleAlign": "left", "titleAnchor": null, "titleBaseline": "alphabetic", "titleFont": "Liberation Sans", "titleFontWeight": "normal", "titleFontSize": 16, "titleColor": "#222", "labels": false, "ticks": false, "domain": false, "grid": false}},
        "y": {"field": "py", "type": "quantitative", "scale": {"domain": [-1.45, 2.386], "nice": false, "zero": false}, "axis": {"title": "Glioma group", "titleAngle": 0, "titleAlign": "right", "titleBaseline": "middle", "titleX": -2, "titleY": 104.5, "titleFontSize": 10, "titleFontWeight": "bold", "labels": false, "ticks": false, "domain": false, "grid": false}}
      },
      "layer": [
        {
          "data": {"name": "edges"},
          "transform": [
            {"filter": "datum.net === 'G5'"},
            {"calculate": "datum.kind === 'Transition Probability' ? 0.16 : 0.03", "as": "bend"},
            {"calculate": "cos((datum.from - 1) * PI / 5)", "as": "x0"},
            {"calculate": "sin((datum.from - 1) * PI / 5)", "as": "y0"},
            {"calculate": "cos((datum.to - 1) * PI / 5)", "as": "x1"},
            {"calculate": "sin((datum.to - 1) * PI / 5)", "as": "y1"},
            {"calculate": "datum.from + '>' + datum.to", "as": "eid"},
            {"calculate": "[0, 1, 2]", "as": "k"},
            {"flatten": ["k"]},
            {"calculate": "datum.k === 0 ? datum.x0 : datum.k === 2 ? datum.x1 : (datum.x0 + datum.x1) / 2 + datum.bend * (datum.y1 - datum.y0)", "as": "px"},
            {"calculate": "datum.k === 0 ? datum.y0 : datum.k === 2 ? datum.y1 : (datum.y0 + datum.y1) / 2 - datum.bend * (datum.x1 - datum.x0)", "as": "py"}
          ],
          "mark": {"type": "line", "interpolate": "basis", "strokeCap": "butt"},
          "encoding": {
            "detail": {"field": "eid", "type": "nominal"},
            "order": {"field": "k", "type": "quantitative"},
            "stroke": {"field": "kind", "type": "nominal", "scale": {"domain": ["Transition Probability","Significant Transfer in Glioma Group","Significant Transfer in Control Group"], "range": ["#4a6fc0","#d9262c","#6a9a3a"]}, "legend": null},
            "strokeWidth": {"field": "prob", "type": "quantitative", "scale": {"domain": [0, 0.5], "range": [0, 7]}, "legend": null}
          }
        },
        {
          "data": {"name": "edges"},
          "transform": [
            {"filter": "datum.net === 'G5'"},
            {"calculate": "datum.kind === 'Transition Probability' ? 0.16 : 0.03", "as": "bend"},
            {"calculate": "cos((datum.from - 1) * PI / 5)", "as": "x0"},
            {"calculate": "sin((datum.from - 1) * PI / 5)", "as": "y0"},
            {"calculate": "cos((datum.to - 1) * PI / 5)", "as": "x1"},
            {"calculate": "sin((datum.to - 1) * PI / 5)", "as": "y1"},
            {"calculate": "(datum.x0 + datum.x1) / 2 + datum.bend * 2 / 3 * (datum.y1 - datum.y0)", "as": "px"},
            {"calculate": "(datum.y0 + datum.y1) / 2 - datum.bend * 2 / 3 * (datum.x1 - datum.x0)", "as": "py"},
            {"calculate": "-atan2(datum.y1 - datum.y0, datum.x1 - datum.x0) * 180 / PI", "as": "ang"}
          ],
          "mark": {"type": "point", "shape": "triangle-right", "filled": true, "color": "#111", "size": 12, "opacity": 1},
          "encoding": {"angle": {"field": "ang", "type": "quantitative", "scale": null}}
        },
        {
          "data": {"name": "nodes"},
          "transform": [
            {"filter": "datum.net === 'G5'"},
            {"calculate": "cos((datum.state - 1) * PI / 5)", "as": "px"},
            {"calculate": "sin((datum.state - 1) * PI / 5)", "as": "py"}
          ],
          "mark": {"type": "point", "filled": true, "opacity": 1, "shape": "circle", "color": "#111"},
          "encoding": {"size": {"field": "persist", "type": "quantitative", "scale": {"domain": [0, 1], "range": [0, 80]}, "legend": null}}
        },
        {
          "data": {"name": "nodes"},
          "transform": [
            {"filter": "datum.net === 'G5'"},
            {"calculate": "1.24 * cos((datum.state - 1) * PI / 5)", "as": "px"},
            {"calculate": "1.24 * sin((datum.state - 1) * PI / 5)", "as": "py"},
            {"calculate": "90 - (datum.state - 1) * 36", "as": "a0"},
            {"calculate": "datum.a0 < -180 ? datum.a0 + 360 : datum.a0", "as": "a1"},
            {"calculate": "datum.a1 > 90 ? datum.a1 - 180 : (datum.a1 < -90 ? datum.a1 + 180 : datum.a1)", "as": "la"},
            {"calculate": "'State ' + datum.state", "as": "lab"}
          ],
          "mark": {"type": "text", "fontSize": 5.5, "fontWeight": "bold", "color": "#222", "align": "center", "baseline": "middle"},
          "encoding": {"angle": {"field": "la", "type": "quantitative", "scale": null}, "text": {"field": "lab"}}
        }
      ]
    },
    {
      "width": 127, "height": 168,
      "view": {"stroke": null},
      "title": {"text": "OAA/S = 3", "offset": -43},
      "encoding": {
        "x": {"field": "px", "type": "quantitative", "scale": {"domain": [-1.37, 1.53], "nice": false, "zero": false}, "axis": null},
        "y": {"field": "py", "type": "quantitative", "scale": {"domain": [-1.45, 2.386], "nice": false, "zero": false}, "axis": null}
      },
      "layer": [
        {
          "data": {"name": "edges"},
          "transform": [
            {"filter": "datum.net === 'G3'"},
            {"calculate": "datum.kind === 'Transition Probability' ? 0.16 : 0.03", "as": "bend"},
            {"calculate": "cos((datum.from - 1) * PI / 5)", "as": "x0"},
            {"calculate": "sin((datum.from - 1) * PI / 5)", "as": "y0"},
            {"calculate": "cos((datum.to - 1) * PI / 5)", "as": "x1"},
            {"calculate": "sin((datum.to - 1) * PI / 5)", "as": "y1"},
            {"calculate": "datum.from + '>' + datum.to", "as": "eid"},
            {"calculate": "[0, 1, 2]", "as": "k"},
            {"flatten": ["k"]},
            {"calculate": "datum.k === 0 ? datum.x0 : datum.k === 2 ? datum.x1 : (datum.x0 + datum.x1) / 2 + datum.bend * (datum.y1 - datum.y0)", "as": "px"},
            {"calculate": "datum.k === 0 ? datum.y0 : datum.k === 2 ? datum.y1 : (datum.y0 + datum.y1) / 2 - datum.bend * (datum.x1 - datum.x0)", "as": "py"}
          ],
          "mark": {"type": "line", "interpolate": "basis", "strokeCap": "butt"},
          "encoding": {
            "detail": {"field": "eid", "type": "nominal"},
            "order": {"field": "k", "type": "quantitative"},
            "stroke": {"field": "kind", "type": "nominal", "scale": {"domain": ["Transition Probability","Significant Transfer in Glioma Group","Significant Transfer in Control Group"], "range": ["#4a6fc0","#d9262c","#6a9a3a"]}, "legend": null},
            "strokeWidth": {"field": "prob", "type": "quantitative", "scale": {"domain": [0, 0.5], "range": [0, 7]}, "legend": null}
          }
        },
        {
          "data": {"name": "edges"},
          "transform": [
            {"filter": "datum.net === 'G3'"},
            {"calculate": "datum.kind === 'Transition Probability' ? 0.16 : 0.03", "as": "bend"},
            {"calculate": "cos((datum.from - 1) * PI / 5)", "as": "x0"},
            {"calculate": "sin((datum.from - 1) * PI / 5)", "as": "y0"},
            {"calculate": "cos((datum.to - 1) * PI / 5)", "as": "x1"},
            {"calculate": "sin((datum.to - 1) * PI / 5)", "as": "y1"},
            {"calculate": "(datum.x0 + datum.x1) / 2 + datum.bend * 2 / 3 * (datum.y1 - datum.y0)", "as": "px"},
            {"calculate": "(datum.y0 + datum.y1) / 2 - datum.bend * 2 / 3 * (datum.x1 - datum.x0)", "as": "py"},
            {"calculate": "-atan2(datum.y1 - datum.y0, datum.x1 - datum.x0) * 180 / PI", "as": "ang"}
          ],
          "mark": {"type": "point", "shape": "triangle-right", "filled": true, "color": "#111", "size": 12, "opacity": 1},
          "encoding": {"angle": {"field": "ang", "type": "quantitative", "scale": null}}
        },
        {
          "data": {"name": "nodes"},
          "transform": [
            {"filter": "datum.net === 'G3'"},
            {"calculate": "cos((datum.state - 1) * PI / 5)", "as": "px"},
            {"calculate": "sin((datum.state - 1) * PI / 5)", "as": "py"}
          ],
          "mark": {"type": "point", "filled": true, "opacity": 1, "shape": "circle", "color": "#111"},
          "encoding": {"size": {"field": "persist", "type": "quantitative", "scale": {"domain": [0, 1], "range": [0, 80]}, "legend": null}}
        },
        {
          "data": {"name": "nodes"},
          "transform": [
            {"filter": "datum.net === 'G3'"},
            {"calculate": "1.24 * cos((datum.state - 1) * PI / 5)", "as": "px"},
            {"calculate": "1.24 * sin((datum.state - 1) * PI / 5)", "as": "py"},
            {"calculate": "90 - (datum.state - 1) * 36", "as": "a0"},
            {"calculate": "datum.a0 < -180 ? datum.a0 + 360 : datum.a0", "as": "a1"},
            {"calculate": "datum.a1 > 90 ? datum.a1 - 180 : (datum.a1 < -90 ? datum.a1 + 180 : datum.a1)", "as": "la"},
            {"calculate": "'State ' + datum.state", "as": "lab"}
          ],
          "mark": {"type": "text", "fontSize": 5.5, "fontWeight": "bold", "color": "#222", "align": "center", "baseline": "middle"},
          "encoding": {"angle": {"field": "la", "type": "quantitative", "scale": null}, "text": {"field": "lab"}}
        }
      ]
    },
    {
      "width": 127, "height": 168,
      "view": {"stroke": null},
      "title": {"text": "OAA/S = 1", "offset": -43},
      "encoding": {
        "x": {"field": "px", "type": "quantitative", "scale": {"domain": [-1.37, 1.53], "nice": false, "zero": false}, "axis": null},
        "y": {"field": "py", "type": "quantitative", "scale": {"domain": [-1.45, 2.386], "nice": false, "zero": false}, "axis": null}
      },
      "layer": [
        {
          "data": {"name": "edges"},
          "transform": [
            {"filter": "datum.net === 'G1'"},
            {"calculate": "datum.kind === 'Transition Probability' ? 0.16 : 0.03", "as": "bend"},
            {"calculate": "cos((datum.from - 1) * PI / 5)", "as": "x0"},
            {"calculate": "sin((datum.from - 1) * PI / 5)", "as": "y0"},
            {"calculate": "cos((datum.to - 1) * PI / 5)", "as": "x1"},
            {"calculate": "sin((datum.to - 1) * PI / 5)", "as": "y1"},
            {"calculate": "datum.from + '>' + datum.to", "as": "eid"},
            {"calculate": "[0, 1, 2]", "as": "k"},
            {"flatten": ["k"]},
            {"calculate": "datum.k === 0 ? datum.x0 : datum.k === 2 ? datum.x1 : (datum.x0 + datum.x1) / 2 + datum.bend * (datum.y1 - datum.y0)", "as": "px"},
            {"calculate": "datum.k === 0 ? datum.y0 : datum.k === 2 ? datum.y1 : (datum.y0 + datum.y1) / 2 - datum.bend * (datum.x1 - datum.x0)", "as": "py"}
          ],
          "mark": {"type": "line", "interpolate": "basis", "strokeCap": "butt"},
          "encoding": {
            "detail": {"field": "eid", "type": "nominal"},
            "order": {"field": "k", "type": "quantitative"},
            "stroke": {"field": "kind", "type": "nominal", "scale": {"domain": ["Transition Probability","Significant Transfer in Glioma Group","Significant Transfer in Control Group"], "range": ["#4a6fc0","#d9262c","#6a9a3a"]}, "legend": null},
            "strokeWidth": {"field": "prob", "type": "quantitative", "scale": {"domain": [0, 0.5], "range": [0, 7]}, "legend": null}
          }
        },
        {
          "data": {"name": "edges"},
          "transform": [
            {"filter": "datum.net === 'G1'"},
            {"calculate": "datum.kind === 'Transition Probability' ? 0.16 : 0.03", "as": "bend"},
            {"calculate": "cos((datum.from - 1) * PI / 5)", "as": "x0"},
            {"calculate": "sin((datum.from - 1) * PI / 5)", "as": "y0"},
            {"calculate": "cos((datum.to - 1) * PI / 5)", "as": "x1"},
            {"calculate": "sin((datum.to - 1) * PI / 5)", "as": "y1"},
            {"calculate": "(datum.x0 + datum.x1) / 2 + datum.bend * 2 / 3 * (datum.y1 - datum.y0)", "as": "px"},
            {"calculate": "(datum.y0 + datum.y1) / 2 - datum.bend * 2 / 3 * (datum.x1 - datum.x0)", "as": "py"},
            {"calculate": "-atan2(datum.y1 - datum.y0, datum.x1 - datum.x0) * 180 / PI", "as": "ang"}
          ],
          "mark": {"type": "point", "shape": "triangle-right", "filled": true, "color": "#111", "size": 12, "opacity": 1},
          "encoding": {"angle": {"field": "ang", "type": "quantitative", "scale": null}}
        },
        {
          "data": {"name": "nodes"},
          "transform": [
            {"filter": "datum.net === 'G1'"},
            {"calculate": "cos((datum.state - 1) * PI / 5)", "as": "px"},
            {"calculate": "sin((datum.state - 1) * PI / 5)", "as": "py"},
            {"calculate": "'Persistence Probability'", "as": "kind"}
          ],
          "mark": {"type": "point", "filled": true, "opacity": 1},
          "encoding": {
            "fill": {"field": "kind", "type": "nominal", "scale": {"domain": ["Persistence Probability","Transition Probability","Significant Transfer in Glioma Group","Significant Transfer in Control Group"], "range": ["#111111","#4a6fc0","#d9262c","#6a9a3a"]}, "legend": {"orient": "none", "legendX": 136.5, "legendY": 150, "title": null, "padding": 0, "rowPadding": 7, "symbolSize": 49, "labelOffset": 15.5, "labelFontSize": 7.3, "symbolStrokeWidth": 0}},
            "shape": {"field": "kind", "type": "nominal", "scale": {"domain": ["Persistence Probability","Transition Probability","Significant Transfer in Glioma Group","Significant Transfer in Control Group"], "range": ["circle","M-3.1,-0.4H3.1V0.4H-3.1Z","M-3.1,-0.4H3.1V0.4H-3.1Z","M-3.1,-0.4H3.1V0.4H-3.1Z"]}, "legend": {"orient": "none", "legendX": 136.5, "legendY": 150, "title": null, "padding": 0, "rowPadding": 7, "symbolSize": 49, "labelOffset": 15.5, "labelFontSize": 7.3, "symbolStrokeWidth": 0}},
            "size": {"field": "persist", "type": "quantitative", "scale": {"domain": [0, 1], "range": [0, 80]}, "legend": null}
          }
        },
        {
          "data": {"name": "nodes"},
          "transform": [
            {"filter": "datum.net === 'G1'"},
            {"calculate": "1.24 * cos((datum.state - 1) * PI / 5)", "as": "px"},
            {"calculate": "1.24 * sin((datum.state - 1) * PI / 5)", "as": "py"},
            {"calculate": "90 - (datum.state - 1) * 36", "as": "a0"},
            {"calculate": "datum.a0 < -180 ? datum.a0 + 360 : datum.a0", "as": "a1"},
            {"calculate": "datum.a1 > 90 ? datum.a1 - 180 : (datum.a1 < -90 ? datum.a1 + 180 : datum.a1)", "as": "la"},
            {"calculate": "'State ' + datum.state", "as": "lab"}
          ],
          "mark": {"type": "text", "fontSize": 5.5, "fontWeight": "bold", "color": "#222", "align": "center", "baseline": "middle"},
          "encoding": {"angle": {"field": "la", "type": "quantitative", "scale": null}, "text": {"field": "lab"}}
        }
      ]
    },
    {
      "width": 127, "height": 120,
      "view": {"stroke": null},
      "encoding": {
        "x": {"field": "px", "type": "quantitative", "scale": {"domain": [-1.37, 1.53], "nice": false, "zero": false}, "axis": null},
        "y": {"field": "py", "type": "quantitative", "scale": {"domain": [-1.37, 1.37], "nice": false, "zero": false}, "axis": {"title": "Control group", "titleAngle": 0, "titleAlign": "right", "titleBaseline": "middle", "titleX": -2, "titleY": 60, "titleFontSize": 10, "titleFontWeight": "bold", "labels": false, "ticks": false, "domain": false, "grid": false}}
      },
      "layer": [
        {
          "data": {"name": "edges"},
          "transform": [
            {"filter": "datum.net === 'C5'"},
            {"calculate": "datum.kind === 'Transition Probability' ? 0.16 : 0.03", "as": "bend"},
            {"calculate": "cos((datum.from - 1) * PI / 5)", "as": "x0"},
            {"calculate": "sin((datum.from - 1) * PI / 5)", "as": "y0"},
            {"calculate": "cos((datum.to - 1) * PI / 5)", "as": "x1"},
            {"calculate": "sin((datum.to - 1) * PI / 5)", "as": "y1"},
            {"calculate": "datum.from + '>' + datum.to", "as": "eid"},
            {"calculate": "[0, 1, 2]", "as": "k"},
            {"flatten": ["k"]},
            {"calculate": "datum.k === 0 ? datum.x0 : datum.k === 2 ? datum.x1 : (datum.x0 + datum.x1) / 2 + datum.bend * (datum.y1 - datum.y0)", "as": "px"},
            {"calculate": "datum.k === 0 ? datum.y0 : datum.k === 2 ? datum.y1 : (datum.y0 + datum.y1) / 2 - datum.bend * (datum.x1 - datum.x0)", "as": "py"}
          ],
          "mark": {"type": "line", "interpolate": "basis", "strokeCap": "butt"},
          "encoding": {
            "detail": {"field": "eid", "type": "nominal"},
            "order": {"field": "k", "type": "quantitative"},
            "stroke": {"field": "kind", "type": "nominal", "scale": {"domain": ["Transition Probability","Significant Transfer in Glioma Group","Significant Transfer in Control Group"], "range": ["#4a6fc0","#d9262c","#6a9a3a"]}, "legend": null},
            "strokeWidth": {"field": "prob", "type": "quantitative", "scale": {"domain": [0, 0.5], "range": [0, 7]}, "legend": null}
          }
        },
        {
          "data": {"name": "edges"},
          "transform": [
            {"filter": "datum.net === 'C5'"},
            {"calculate": "datum.kind === 'Transition Probability' ? 0.16 : 0.03", "as": "bend"},
            {"calculate": "cos((datum.from - 1) * PI / 5)", "as": "x0"},
            {"calculate": "sin((datum.from - 1) * PI / 5)", "as": "y0"},
            {"calculate": "cos((datum.to - 1) * PI / 5)", "as": "x1"},
            {"calculate": "sin((datum.to - 1) * PI / 5)", "as": "y1"},
            {"calculate": "(datum.x0 + datum.x1) / 2 + datum.bend * 2 / 3 * (datum.y1 - datum.y0)", "as": "px"},
            {"calculate": "(datum.y0 + datum.y1) / 2 - datum.bend * 2 / 3 * (datum.x1 - datum.x0)", "as": "py"},
            {"calculate": "-atan2(datum.y1 - datum.y0, datum.x1 - datum.x0) * 180 / PI", "as": "ang"}
          ],
          "mark": {"type": "point", "shape": "triangle-right", "filled": true, "color": "#111", "size": 12, "opacity": 1},
          "encoding": {"angle": {"field": "ang", "type": "quantitative", "scale": null}}
        },
        {
          "data": {"name": "nodes"},
          "transform": [
            {"filter": "datum.net === 'C5'"},
            {"calculate": "cos((datum.state - 1) * PI / 5)", "as": "px"},
            {"calculate": "sin((datum.state - 1) * PI / 5)", "as": "py"}
          ],
          "mark": {"type": "point", "filled": true, "opacity": 1, "shape": "circle", "color": "#111"},
          "encoding": {"size": {"field": "persist", "type": "quantitative", "scale": {"domain": [0, 1], "range": [0, 80]}, "legend": null}}
        },
        {
          "data": {"name": "nodes"},
          "transform": [
            {"filter": "datum.net === 'C5'"},
            {"calculate": "1.24 * cos((datum.state - 1) * PI / 5)", "as": "px"},
            {"calculate": "1.24 * sin((datum.state - 1) * PI / 5)", "as": "py"},
            {"calculate": "90 - (datum.state - 1) * 36", "as": "a0"},
            {"calculate": "datum.a0 < -180 ? datum.a0 + 360 : datum.a0", "as": "a1"},
            {"calculate": "datum.a1 > 90 ? datum.a1 - 180 : (datum.a1 < -90 ? datum.a1 + 180 : datum.a1)", "as": "la"},
            {"calculate": "'State ' + datum.state", "as": "lab"}
          ],
          "mark": {"type": "text", "fontSize": 5.5, "fontWeight": "bold", "color": "#222", "align": "center", "baseline": "middle"},
          "encoding": {"angle": {"field": "la", "type": "quantitative", "scale": null}, "text": {"field": "lab"}}
        }
      ]
    },
    {
      "width": 127, "height": 120,
      "view": {"stroke": null},
      "encoding": {
        "x": {"field": "px", "type": "quantitative", "scale": {"domain": [-1.37, 1.53], "nice": false, "zero": false}, "axis": null},
        "y": {"field": "py", "type": "quantitative", "scale": {"domain": [-1.37, 1.37], "nice": false, "zero": false}, "axis": null}
      },
      "layer": [
        {
          "data": {"name": "edges"},
          "transform": [
            {"filter": "datum.net === 'C3'"},
            {"calculate": "datum.kind === 'Transition Probability' ? 0.16 : 0.03", "as": "bend"},
            {"calculate": "cos((datum.from - 1) * PI / 5)", "as": "x0"},
            {"calculate": "sin((datum.from - 1) * PI / 5)", "as": "y0"},
            {"calculate": "cos((datum.to - 1) * PI / 5)", "as": "x1"},
            {"calculate": "sin((datum.to - 1) * PI / 5)", "as": "y1"},
            {"calculate": "datum.from + '>' + datum.to", "as": "eid"},
            {"calculate": "[0, 1, 2]", "as": "k"},
            {"flatten": ["k"]},
            {"calculate": "datum.k === 0 ? datum.x0 : datum.k === 2 ? datum.x1 : (datum.x0 + datum.x1) / 2 + datum.bend * (datum.y1 - datum.y0)", "as": "px"},
            {"calculate": "datum.k === 0 ? datum.y0 : datum.k === 2 ? datum.y1 : (datum.y0 + datum.y1) / 2 - datum.bend * (datum.x1 - datum.x0)", "as": "py"}
          ],
          "mark": {"type": "line", "interpolate": "basis", "strokeCap": "butt"},
          "encoding": {
            "detail": {"field": "eid", "type": "nominal"},
            "order": {"field": "k", "type": "quantitative"},
            "stroke": {"field": "kind", "type": "nominal", "scale": {"domain": ["Transition Probability","Significant Transfer in Glioma Group","Significant Transfer in Control Group"], "range": ["#4a6fc0","#d9262c","#6a9a3a"]}, "legend": null},
            "strokeWidth": {"field": "prob", "type": "quantitative", "scale": {"domain": [0, 0.5], "range": [0, 7]}, "legend": null}
          }
        },
        {
          "data": {"name": "edges"},
          "transform": [
            {"filter": "datum.net === 'C3'"},
            {"calculate": "datum.kind === 'Transition Probability' ? 0.16 : 0.03", "as": "bend"},
            {"calculate": "cos((datum.from - 1) * PI / 5)", "as": "x0"},
            {"calculate": "sin((datum.from - 1) * PI / 5)", "as": "y0"},
            {"calculate": "cos((datum.to - 1) * PI / 5)", "as": "x1"},
            {"calculate": "sin((datum.to - 1) * PI / 5)", "as": "y1"},
            {"calculate": "(datum.x0 + datum.x1) / 2 + datum.bend * 2 / 3 * (datum.y1 - datum.y0)", "as": "px"},
            {"calculate": "(datum.y0 + datum.y1) / 2 - datum.bend * 2 / 3 * (datum.x1 - datum.x0)", "as": "py"},
            {"calculate": "-atan2(datum.y1 - datum.y0, datum.x1 - datum.x0) * 180 / PI", "as": "ang"}
          ],
          "mark": {"type": "point", "shape": "triangle-right", "filled": true, "color": "#111", "size": 12, "opacity": 1},
          "encoding": {"angle": {"field": "ang", "type": "quantitative", "scale": null}}
        },
        {
          "data": {"name": "nodes"},
          "transform": [
            {"filter": "datum.net === 'C3'"},
            {"calculate": "cos((datum.state - 1) * PI / 5)", "as": "px"},
            {"calculate": "sin((datum.state - 1) * PI / 5)", "as": "py"}
          ],
          "mark": {"type": "point", "filled": true, "opacity": 1, "shape": "circle", "color": "#111"},
          "encoding": {"size": {"field": "persist", "type": "quantitative", "scale": {"domain": [0, 1], "range": [0, 80]}, "legend": null}}
        },
        {
          "data": {"name": "nodes"},
          "transform": [
            {"filter": "datum.net === 'C3'"},
            {"calculate": "1.24 * cos((datum.state - 1) * PI / 5)", "as": "px"},
            {"calculate": "1.24 * sin((datum.state - 1) * PI / 5)", "as": "py"},
            {"calculate": "90 - (datum.state - 1) * 36", "as": "a0"},
            {"calculate": "datum.a0 < -180 ? datum.a0 + 360 : datum.a0", "as": "a1"},
            {"calculate": "datum.a1 > 90 ? datum.a1 - 180 : (datum.a1 < -90 ? datum.a1 + 180 : datum.a1)", "as": "la"},
            {"calculate": "'State ' + datum.state", "as": "lab"}
          ],
          "mark": {"type": "text", "fontSize": 5.5, "fontWeight": "bold", "color": "#222", "align": "center", "baseline": "middle"},
          "encoding": {"angle": {"field": "la", "type": "quantitative", "scale": null}, "text": {"field": "lab"}}
        }
      ]
    },
    {
      "width": 127, "height": 120,
      "view": {"stroke": null},
      "encoding": {
        "x": {"field": "px", "type": "quantitative", "scale": {"domain": [-1.37, 1.53], "nice": false, "zero": false}, "axis": null},
        "y": {"field": "py", "type": "quantitative", "scale": {"domain": [-1.37, 1.37], "nice": false, "zero": false}, "axis": null}
      },
      "layer": [
        {
          "data": {"name": "edges"},
          "transform": [
            {"filter": "datum.net === 'C1'"},
            {"calculate": "datum.kind === 'Transition Probability' ? 0.16 : 0.03", "as": "bend"},
            {"calculate": "cos((datum.from - 1) * PI / 5)", "as": "x0"},
            {"calculate": "sin((datum.from - 1) * PI / 5)", "as": "y0"},
            {"calculate": "cos((datum.to - 1) * PI / 5)", "as": "x1"},
            {"calculate": "sin((datum.to - 1) * PI / 5)", "as": "y1"},
            {"calculate": "datum.from + '>' + datum.to", "as": "eid"},
            {"calculate": "[0, 1, 2]", "as": "k"},
            {"flatten": ["k"]},
            {"calculate": "datum.k === 0 ? datum.x0 : datum.k === 2 ? datum.x1 : (datum.x0 + datum.x1) / 2 + datum.bend * (datum.y1 - datum.y0)", "as": "px"},
            {"calculate": "datum.k === 0 ? datum.y0 : datum.k === 2 ? datum.y1 : (datum.y0 + datum.y1) / 2 - datum.bend * (datum.x1 - datum.x0)", "as": "py"}
          ],
          "mark": {"type": "line", "interpolate": "basis", "strokeCap": "butt"},
          "encoding": {
            "detail": {"field": "eid", "type": "nominal"},
            "order": {"field": "k", "type": "quantitative"},
            "stroke": {"field": "kind", "type": "nominal", "scale": {"domain": ["Transition Probability","Significant Transfer in Glioma Group","Significant Transfer in Control Group"], "range": ["#4a6fc0","#d9262c","#6a9a3a"]}, "legend": null},
            "strokeWidth": {"field": "prob", "type": "quantitative", "scale": {"domain": [0, 0.5], "range": [0, 7]}, "legend": null}
          }
        },
        {
          "data": {"name": "edges"},
          "transform": [
            {"filter": "datum.net === 'C1'"},
            {"calculate": "datum.kind === 'Transition Probability' ? 0.16 : 0.03", "as": "bend"},
            {"calculate": "cos((datum.from - 1) * PI / 5)", "as": "x0"},
            {"calculate": "sin((datum.from - 1) * PI / 5)", "as": "y0"},
            {"calculate": "cos((datum.to - 1) * PI / 5)", "as": "x1"},
            {"calculate": "sin((datum.to - 1) * PI / 5)", "as": "y1"},
            {"calculate": "(datum.x0 + datum.x1) / 2 + datum.bend * 2 / 3 * (datum.y1 - datum.y0)", "as": "px"},
            {"calculate": "(datum.y0 + datum.y1) / 2 - datum.bend * 2 / 3 * (datum.x1 - datum.x0)", "as": "py"},
            {"calculate": "-atan2(datum.y1 - datum.y0, datum.x1 - datum.x0) * 180 / PI", "as": "ang"}
          ],
          "mark": {"type": "point", "shape": "triangle-right", "filled": true, "color": "#111", "size": 12, "opacity": 1},
          "encoding": {"angle": {"field": "ang", "type": "quantitative", "scale": null}}
        },
        {
          "data": {"name": "nodes"},
          "transform": [
            {"filter": "datum.net === 'C1'"},
            {"calculate": "cos((datum.state - 1) * PI / 5)", "as": "px"},
            {"calculate": "sin((datum.state - 1) * PI / 5)", "as": "py"}
          ],
          "mark": {"type": "point", "filled": true, "opacity": 1, "shape": "circle", "color": "#111"},
          "encoding": {"size": {"field": "persist", "type": "quantitative", "scale": {"domain": [0, 1], "range": [0, 80]}, "legend": null}}
        },
        {
          "data": {"name": "nodes"},
          "transform": [
            {"filter": "datum.net === 'C1'"},
            {"calculate": "1.24 * cos((datum.state - 1) * PI / 5)", "as": "px"},
            {"calculate": "1.24 * sin((datum.state - 1) * PI / 5)", "as": "py"},
            {"calculate": "90 - (datum.state - 1) * 36", "as": "a0"},
            {"calculate": "datum.a0 < -180 ? datum.a0 + 360 : datum.a0", "as": "a1"},
            {"calculate": "datum.a1 > 90 ? datum.a1 - 180 : (datum.a1 < -90 ? datum.a1 + 180 : datum.a1)", "as": "la"},
            {"calculate": "'State ' + datum.state", "as": "lab"}
          ],
          "mark": {"type": "text", "fontSize": 5.5, "fontWeight": "bold", "color": "#222", "align": "center", "baseline": "middle"},
          "encoding": {"angle": {"field": "la", "type": "quantitative", "scale": null}, "text": {"field": "lab"}}
        }
      ]
    }
  ]
}
